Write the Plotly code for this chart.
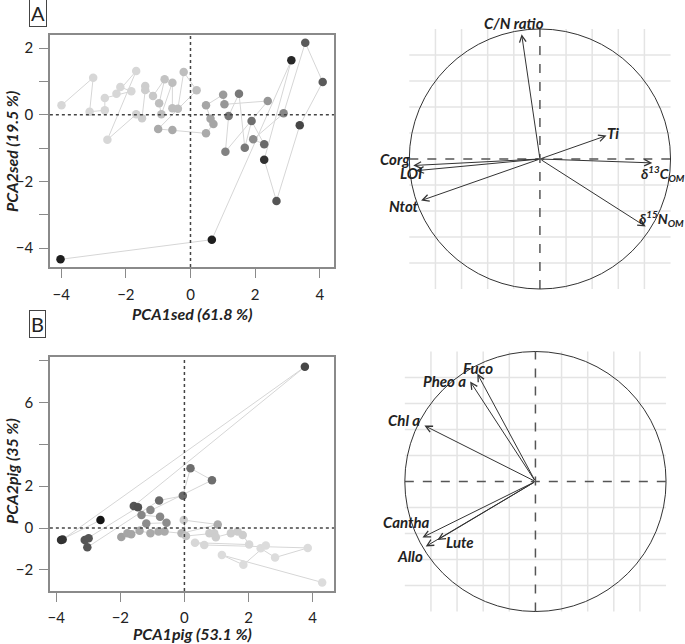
import plotly.graph_objects as go

W, H = 685, 644

# ---------------- Data: Panel A (sediment PCA scores, in time order) ----------------
A_pc1 = [-4.02, 0.66, 3.12, 2.28, 2.66, 3.38, 4.09, 3.55, 2.88, 1.94, 2.28, 1.89, 1.68,
         1.50, 1.18, 1.08, 2.39, 1.05, 1.01, 0.48, 0.62, 0.71, 0.48, -0.56, -1.00, 0.19,
         -0.21, -0.39, -0.56, -0.56, -0.90, -0.97, -0.80, -1.16, -1.40, -1.40, -1.50,
         -1.68, -2.57, -1.68, -2.29, -2.17, -1.83, -2.65, -2.65, -3.12, -3.01, -3.99]
A_pc2 = [-4.34, -3.75, 1.63, -1.35, -2.59, -0.32, 0.98, 2.16, 0.04, -0.74, -0.89, -0.19, -0.99,
         0.63, -0.04, -1.11, 0.41, 0.31, 0.60, 0.28, -0.12, -0.28, -0.56, -0.46, -0.43, 0.73,
         1.28, 0.18, 0.19, 0.96, 0.01, 0.34, 1.06, 0.56, 0.86, 0.74, -0.11,
         0.01, -0.75, 1.31, 0.63, 0.83, 0.70, 0.50, 0.13, 0.09, 1.11, 0.28]
A_grey = [30, 30, 40, 50, 85, 70, 90, 90, 135, 140, 105, 110, 120,
          120, 120, 130, 150, 150, 155, 165, 165, 165, 170, 170, 170, 190,
          190, 190, 190, 190, 190, 190, 195, 200, 205, 205, 205,
          210, 215, 215, 215, 215, 215, 215, 215, 215, 215, 215]

# ---------------- Data: Panel B (pigment PCA scores, in time order) ----------------
B_pc1 = [-2.62, -3.85, -3.80, 3.76, -1.58, -1.45, -3.11, -2.99, -3.03, -0.79, -0.05, 0.19, 0.86,
         -1.06, -1.34, -0.76, -0.56, -1.19, -1.97, -1.78, -1.66, -1.40, -1.06, -0.81, -0.62,
         -0.09, 1.04, -0.02, 0.05, 0.78, 0.93, 0.98, 1.45, 1.66, 1.82, 2.02, 0.33, 0.62,
         3.85, 2.83, 2.38, 2.54, 1.84, 1.17, 4.30]
B_pc2 = [0.38, -0.57, -0.55, 7.71, 1.06, 1.00, -0.57, -0.49, -0.92, 1.32, 1.54, 2.86, 2.29,
         0.86, 0.62, 0.54, 0.25, 0.22, -0.43, -0.25, -0.30, -0.13, -0.25, -0.17, -0.17,
         -0.25, 0.17, 0.38, -0.38, -0.25, -0.25, -0.44, -0.25, -0.16, -0.33, -0.79, -0.70, -0.81,
         -0.95, -1.41, -0.97, -0.83, -1.76, -1.29, -2.60]
B_grey = [20, 50, 50, 70, 85, 80, 85, 85, 85, 105, 105, 110, 110,
          135, 135, 135, 140, 140, 160, 165, 165, 170, 170, 170, 170,
          180, 170, 205, 195, 205, 205, 205, 205, 205, 205, 215, 215, 215,
          220, 220, 220, 220, 220, 220, 220]

# ---------------- Data: loadings (correlation circles) ----------------
sed_vars = ["C/N ratio", "Ti", "Corg", "LOI", "Ntot", "δ<sup>13</sup>C<sub>OM</sub>", "δ<sup>15</sup>N<sub>OM</sub>"]
sed_l1 = [-0.14, 0.51, -0.97, -0.95, -0.91, 0.86, 0.81]
sed_l2 = [0.96, 0.18, -0.05, -0.09, -0.32, -0.03, -0.52]

pig_vars = ["Fuco", "Pheo a", "Chl a", "Cantha", "Lute", "Allo"]
pig_l1 = [-0.445, -0.50, -0.85, -0.865, -0.75, -0.84]
pig_l2 = [0.83, 0.77, 0.43, -0.43, -0.45, -0.50]

A_xticks = [-4, -2, 0, 2, 4]
A_yticks = [-4, -2, 0, 2]
A_yminor = [-3, -1, 1]
B_xticks = [-4, -2, 0, 2, 4]
B_yticks = [-2, 0, 2, 6]
B_yminor = [4, 8]

# ---------------- Layout helpers ----------------
def px_x(p):
    return p / W

def px_y(p):
    return 1 - p / H

FONT = "Lato"
fig = go.Figure()

def grey(g):
    return f"rgb({g},{g},{g})"

# scatter panels
for xs, ys, gs, xa, ya in [(A_pc1, A_pc2, A_grey, "x", "y"), (B_pc1, B_pc2, B_grey, "x2", "y2")]:
    fig.add_trace(go.Scatter(x=xs, y=ys, mode="lines", xaxis=xa, yaxis=ya,
                             line=dict(color="#d6d6d6", width=1), hoverinfo="skip", showlegend=False))
    fig.add_trace(go.Scatter(x=xs, y=ys, mode="markers", xaxis=xa, yaxis=ya,
                             marker=dict(size=8.5, color=[grey(g) for g in gs], line=dict(width=0)),
                             showlegend=False))

ax_common = dict(showline=True, mirror=True, linecolor="#8a8a8a", linewidth=1.5,
                 ticks="outside", ticklen=9, tickcolor="#8a8a8a", tickwidth=1.2,
                 showgrid=False, zeroline=False,
                 tickfont=dict(family=FONT, size=15, color="#222"))

hidden = dict(range=[-1.1, 1.1], visible=False, showgrid=False, zeroline=False,
              showline=False, showticklabels=False, ticks="")

def minor(vals):
    return dict(tickvals=vals, ticks="outside", ticklen=9, tickcolor="#8a8a8a", tickwidth=1.2,
                showgrid=False)

fig.update_layout(
    width=W, height=H, margin=dict(l=0, r=0, t=0, b=0),
    paper_bgcolor="white", plot_bgcolor="white",
    xaxis=dict(domain=[px_x(48), px_x(333)], range=[-4.35, 4.44], anchor="y",
               tickvals=A_xticks, ticklabelstandoff=4, **ax_common),
    yaxis=dict(domain=[px_y(267), px_y(35)], range=[-4.57, 2.39], anchor="x",
               tickvals=A_yticks, minor=minor(A_yminor), ticklabelstandoff=3, **ax_common),
    xaxis2=dict(domain=[px_x(48), px_x(333)], range=[-4.2, 4.67], anchor="y2",
                tickvals=B_xticks, ticklabelstandoff=3, **ax_common),
    yaxis2=dict(domain=[px_y(591), px_y(357)], range=[-3.01, 8.18], anchor="x2",
                tickvals=B_yticks, minor=minor(B_yminor), ticklabelstandoff=3, **ax_common),
    xaxis3=dict(domain=[px_x(395.4), px_x(683.6)], anchor="y3", **hidden),
    yaxis3=dict(domain=[px_y(302), px_y(16)], anchor="x3", **hidden),
    xaxis4=dict(domain=[px_x(390.9), px_x(679.1)], anchor="y4", **hidden),
    yaxis4=dict(domain=[px_y(624.5), px_y(338.5)], anchor="x4", **hidden),
)

shapes = []
# dotted zero lines
for xr, yr in [("x", "y"), ("x2", "y2")]:
    shapes.append(dict(type="line", xref=xr, yref=yr + " domain", x0=0, x1=0, y0=0, y1=1,
                       line=dict(color="#444", width=1.5, dash="dot")))
    shapes.append(dict(type="line", xref=xr + " domain", yref=yr, x0=0, x1=1, y0=0, y1=0,
                       line=dict(color="#444", width=1.5, dash="dot")))

# correlation circles: grid, dashed axes, circle
grid_vals = [-0.8, -0.6, -0.4, -0.2, 0.2, 0.4, 0.6, 0.8]
for xr, yr in [("x3", "y3"), ("x4", "y4")]:
    for g in grid_vals:
        shapes.append(dict(type="line", xref=xr, yref=yr, x0=g, x1=g, y0=-1, y1=1,
                           line=dict(color="#e4e4e4", width=1.5), layer="below"))
        shapes.append(dict(type="line", xref=xr, yref=yr, x0=-1, x1=1, y0=g, y1=g,
                           line=dict(color="#e4e4e4", width=1.5), layer="below"))
    shapes.append(dict(type="line", xref=xr, yref=yr, x0=0, x1=0, y0=-1, y1=1,
                       line=dict(color="#555", width=1.5, dash="dash")))
    shapes.append(dict(type="line", xref=xr, yref=yr, x0=-1, x1=1, y0=0, y1=0,
                       line=dict(color="#555", width=1.5, dash="dash")))
    shapes.append(dict(type="circle", xref=xr, yref=yr, x0=-1, x1=1, y0=-1, y1=1,
                       line=dict(color="#333", width=1)))
fig.update_layout(shapes=shapes)

ann = []
lab_font = dict(family=FONT, size=15, color="#222", weight="bold", style="italic")
lab_font_small = dict(family=FONT, size=14, color="#222", weight="bold", style="italic")

# arrows
for l1, l2, xr, yr in [(sed_l1, sed_l2, "x3", "y3"), (pig_l1, pig_l2, "x4", "y4")]:
    for a, b in zip(l1, l2):
        ann.append(dict(x=a, y=b, ax=0, ay=0, xref=xr, yref=yr, axref=xr, ayref=yr,
                        text="", showarrow=True, arrowhead=5, arrowsize=1.3, arrowwidth=1,
                        arrowcolor="#333"))

# loading labels (positions in circle units)
sed_lab_pos = [(-0.20, 1.046, "center"), (0.56, 0.20, "center"), (-0.983, 0.0, "right"),
               (-0.99, -0.11, "center"), (-1.04, -0.36, "center"), (0.755, -0.11, "left"),
               (0.745, -0.456, "left")]
for i, (name, (px, py, anc)) in enumerate(zip(sed_vars, sed_lab_pos)):
    ann.append(dict(x=px, y=py, xref="x3", yref="y3", text=name, showarrow=False,
                    xanchor=anc, yanchor="middle",
                    font=lab_font_small if i >= 5 else lab_font))
pig_lab_pos = [(-0.443, 0.871), (-0.70, 0.773), (-1.008, 0.473), (-0.987, -0.31),
               (-0.58, -0.465), (-0.96, -0.573)]
for name, (px, py) in zip(pig_vars, pig_lab_pos):
    ann.append(dict(x=px, y=py, xref="x4", yref="y4", text=name, showarrow=False,
                    xanchor="center", yanchor="middle", font=lab_font))

title_font = dict(family=FONT, size=16, color="#222", weight="bold", style="italic")
# axis titles
ann.append(dict(x=px_x(191), y=px_y(313), xref="paper", yref="paper", text="PCA1sed (61.8 %)",
                showarrow=False, xanchor="center", yanchor="middle", font=title_font))
ann.append(dict(x=px_x(9), y=px_y(151), xref="paper", yref="paper", text="PCA2sed (19.5 %)",
                showarrow=False, xanchor="center", yanchor="middle", textangle=-90, font=title_font))
ann.append(dict(x=px_x(191), y=px_y(633), xref="paper", yref="paper", text="PCA1pig (53.1 %)",
                showarrow=False, xanchor="center", yanchor="middle", font=title_font))
ann.append(dict(x=px_x(9), y=px_y(471), xref="paper", yref="paper", text="PCA2pig (35 %)",
                showarrow=False, xanchor="center", yanchor="middle", textangle=-90, font=title_font))

# panel letters
for letter, cx, cy in [("A", 36, 13.5), ("B", 35.5, 323.5)]:
    ann.append(dict(x=px_x(cx), y=px_y(cy), xref="paper", yref="paper", text=letter,
                    showarrow=False, xanchor="center", yanchor="middle",
                    font=dict(family=FONT, size=20, color="#222"),
                    bordercolor="#444", borderwidth=1, borderpad=1, bgcolor="white"))

fig.update_layout(annotations=ann)
fig.write_html("out.html", config={"displayModeBar": False},
               post_script="document.body.style.margin='0';document.body.style.overflow='hidden';")
